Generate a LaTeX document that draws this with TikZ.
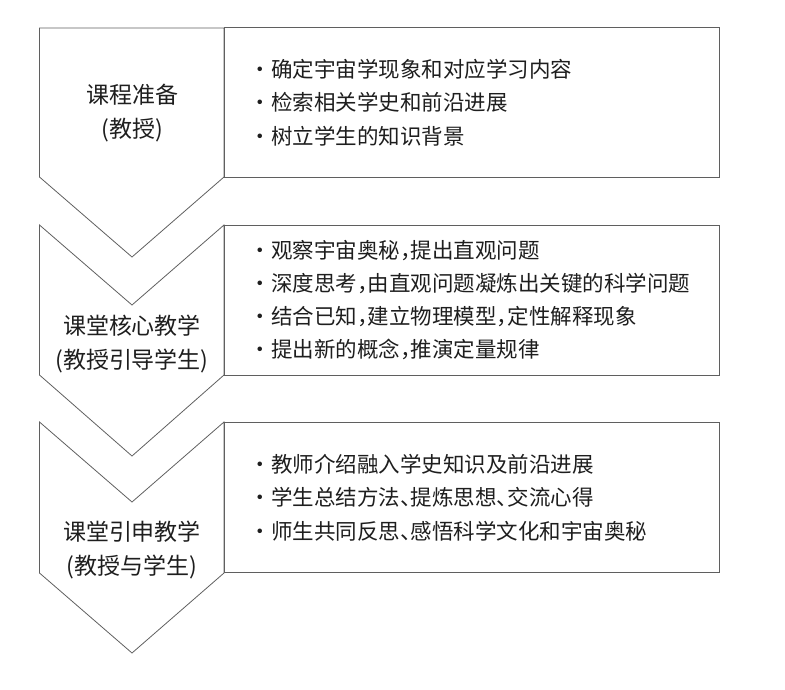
\documentclass[tikz,border=0pt]{standalone}
\usepackage{fontspec}
\setmainfont{Noto Sans CJK SC}[RawFeature=+halt]
\usepackage{tikz}
\usetikzlibrary{positioning,calc}
\definecolor{lineGray}{RGB}{95,95,95}
\definecolor{textBlack}{RGB}{30,30,30}
\newcommand{\itemdot}{·\hspace{5.5pt}}

\begin{document}
\begin{tikzpicture}[x=1pt,y=-1pt,
    chevron/.style={draw=lineGray,line width=0.8pt,line join=miter},
    infobox/.style={draw=lineGray,line width=0.8pt,minimum width=495pt,minimum height=150pt,inner sep=0pt},
    stage/.style={font=\fontsize{23}{34.5}\selectfont,align=center,text=textBlack},
    detail/.style={font=\fontsize{21.5}{33.3}\selectfont,align=left,anchor=west,inner sep=0pt,text=textBlack}
  ]
  \useasboundingbox (0,0) rectangle (785,689);
  % stage chevrons
  \draw[chevron] (39.5,28) -- (224,28) -- (224,177) -- (132,257) -- (39.5,177) -- cycle;
  \draw[chevron] (39.5,225) -- (132,305) -- (224,225) -- (224,375) -- (132,456) -- (39.5,375) -- cycle;
  \draw[chevron] (39.5,422) -- (132,502) -- (224,422) -- (224,573) -- (132,653) -- (39.5,573) -- cycle;
  \node[stage] (prep) at (132,113) {课程准备\\(教授)};
  \node[stage] (core) at (132,344) {课堂核心教学\\(教授引导学生)};
  \node[stage] (ext) at (132,550) {课堂引申教学\\(教授与学生)};
  % detail boxes
  \node[infobox] (box1) at (471.5,102.5) {};
  \node[infobox] (box2) at (471.5,300) {};
  \node[infobox] (box3) at (471.5,497.5) {};
  \node[detail] (items1) at ([xshift=31pt]box1.west) {\itemdot 确定宇宙学现象和对应学习内容\\\itemdot 检索相关学史和前沿进展\\\itemdot 树立学生的知识背景};
  \node[detail] (items2) at ([xshift=31pt]box2.west) {\itemdot 观察宇宙奥秘，提出直观问题\\\itemdot 深度思考，由直观问题凝炼出关键的科学问题\\\itemdot 结合已知，建立物理模型，定性解释现象\\\itemdot 提出新的概念，推演定量规律};
  \node[detail] (items3) at ([xshift=31pt]box3.west) {\itemdot 教师介绍融入学史知识及前沿进展\\\itemdot 学生总结方法、提炼思想、交流心得\\\itemdot 师生共同反思、感悟科学文化和宇宙奥秘};
\end{tikzpicture}
\end{document}
